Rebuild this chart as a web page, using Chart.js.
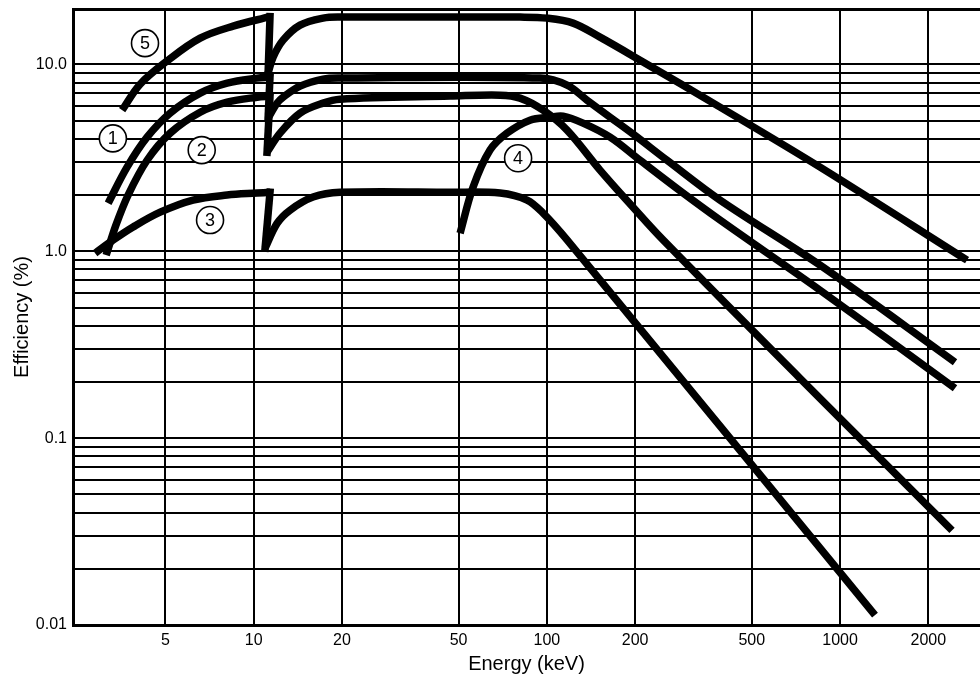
<!DOCTYPE html>
<html>
<head>
<meta charset="utf-8">
<title>Efficiency vs Energy</title>
<script src="https://cdn.jsdelivr.net/npm/chart.js@4.4.1/dist/chart.umd.min.js"></script>
<style>
  html, body { margin: 0; padding: 0; background: #fff; }
  canvas { display: block; }
</style>
</head>
<body>
<canvas id="efficiencyChart" width="980" height="682"></canvas>
<script>
// energy in keV, efficiency in %, read off the plot
// where the energy steps back (near 11.3 keV) is the absorption edge drop
const curve1Energy = [3.19, 3.70, 4.33, 5.19, 6.57, 8.12, 10.27, 11.37, 11.20, 12.02, 12.60, 14.40, 17.25, 19.71, 94.8, 117.2, 137.1, 164.3, 196.8, 257.0, 389.6, 854.8, 2467];
const curve1Eff = [1.81, 2.82, 4.08, 5.49, 7.02, 7.94, 8.45, 8.55, 5.16, 6.21, 6.68, 7.65, 8.34, 8.45, 8.45, 7.75, 6.44, 5.22, 4.24, 3.07, 1.88, 0.843, 0.255];

const curve2Energy = [3.14, 3.39, 3.73, 4.33, 5.19, 6.57, 8.12, 10.27, 11.37, 11.11, 12.30, 14.40, 17.25, 19.71, 46.8, 69.3, 81.0, 97.1, 117.2, 151.8, 196.8, 249.1, 730.3, 2410];
const curve2Eff = [0.953, 1.38, 2.00, 3.07, 4.29, 5.55, 6.28, 6.68, 6.77, 3.39, 4.29, 5.49, 6.21, 6.52, 6.77, 6.85, 6.60, 5.69, 4.45, 2.72, 1.72, 1.15, 0.209, 0.0321];

const curve3Energy = [2.88, 3.32, 3.88, 4.80, 6.21, 8.12, 10.27, 11.37, 10.94, 12.02, 13.31, 15.94, 19.71, 46.8, 69.3, 85.6, 97.1, 117.2, 1316];
const curve3Eff = [0.977, 1.15, 1.35, 1.62, 1.88, 2.00, 2.05, 2.07, 1.04, 1.41, 1.66, 1.95, 2.07, 2.07, 2.05, 1.88, 1.60, 1.15, 0.0113];

const curve4Energy = [50.6, 56.0, 64.0, 73.2, 87.6, 102.5, 113.6, 132.9, 164.3, 207.9, 291.4, 389.6, 854.8, 2467];
const curve4Eff = [1.25, 2.20, 3.48, 4.29, 5.03, 5.22, 5.29, 4.85, 4.08, 3.07, 2.05, 1.47, 0.619, 0.185];

const curve5Energy = [3.56, 4.10, 5.11, 6.57, 8.51, 11.37, 11.20, 11.65, 12.60, 14.40, 17.25, 19.71, 46.8, 81.0, 100.2, 122.9, 151.8, 207.9, 389.6, 854.8, 2712];
const curve5Eff = [5.69, 7.84, 10.54, 13.83, 16.03, 18.03, 8.98, 10.94, 13.49, 16.23, 17.69, 17.92, 17.92, 17.92, 17.69, 16.64, 14.00, 10.54, 5.91, 2.82, 0.896];

// circled curve numbers
const labelNames = ['1', '2', '3', '4', '5'];
const labelEnergy = [3.31, 6.65, 7.10, 79.8, 4.26];
const labelEff = [4.02, 3.48, 1.47, 3.15, 13.0];

// axes
const xMin = 2.42;
const xMax = 3002;
const xTickValues = [5, 10, 20, 50, 100, 200, 500, 1000, 2000];

const yMin = 0.01;
const yMax = 19.8;
const yTickValues = [
  0.01, 0.02, 0.03, 0.04, 0.05, 0.06, 0.07, 0.08, 0.09,
  0.1, 0.2, 0.3, 0.4, 0.5, 0.6, 0.7, 0.8, 0.9,
  1, 2, 3, 4, 5, 6, 7, 8, 9,
  10, yMax
];
const yLabelValues = [0.01, 0.1, 1, 10];
const yLabelTexts = ['0.01', '0.1', '1.0', '10.0'];

Chart.defaults.font.family = '"Liberation Sans", Arial, Helvetica, sans-serif';
Chart.defaults.color = '#000';

function toPoints(energy, eff) {
  return energy.map((e, i) => ({ x: e, y: eff[i] }));
}

function createDataset(label, data, tension, cap) {
  return {
    label,
    data,
    borderColor: '#000',
    borderWidth: 7.5,
    borderCapStyle: cap,
    borderJoinStyle: 'miter',
    pointRadius: 0,
    tension,
    fill: false
  };
}

// smooth parts before and after the edge, straight drop in between
function curveDatasets(label, energy, eff) {
  const points = toPoints(energy, eff);
  const k = energy.findIndex((e, i) => i > 0 && e <= energy[i - 1]);
  if (k < 0) return [createDataset(label, points, 0.35, 'butt')];
  return [
    createDataset(label, points.slice(0, k), 0.35, 'butt'),
    createDataset(label, points.slice(k - 1, k + 1), 0, 'square'),
    createDataset(label, points.slice(k), 0.35, 'butt')
  ];
}

const circledLabels = {
  id: 'circledLabels',
  afterDatasetsDraw(chart) {
    const { ctx, scales: { x, y } } = chart;
    ctx.save();
    ctx.font = '18px "Liberation Sans", Arial, sans-serif';
    ctx.textAlign = 'center';
    ctx.textBaseline = 'middle';
    labelNames.forEach((name, i) => {
      const px = x.getPixelForValue(labelEnergy[i]);
      const py = y.getPixelForValue(labelEff[i]);
      ctx.beginPath();
      ctx.arc(px, py, 13.5, 0, Math.PI * 2);
      ctx.fillStyle = '#fff';
      ctx.fill();
      ctx.lineWidth = 1.6;
      ctx.strokeStyle = '#000';
      ctx.stroke();
      ctx.fillStyle = '#000';
      ctx.fillText(name, px, py + 1);
    });
    ctx.restore();
  }
};

const ctx = document.getElementById('efficiencyChart').getContext('2d');
new Chart(ctx, {
  type: 'line',
  data: {
    datasets: [
      ...curveDatasets('1', curve1Energy, curve1Eff),
      ...curveDatasets('2', curve2Energy, curve2Eff),
      ...curveDatasets('3', curve3Energy, curve3Eff),
      ...curveDatasets('4', curve4Energy, curve4Eff),
      ...curveDatasets('5', curve5Energy, curve5Eff)
    ]
  },
  options: {
    responsive: false,
    animation: false,
    devicePixelRatio: 1,
    layout: { padding: { top: 9, right: 0, bottom: 0, left: 0 } },
    plugins: {
      legend: { display: false },
      tooltip: { enabled: false }
    },
    scales: {
      x: {
        type: 'logarithmic',
        min: xMin,
        max: xMax,
        bounds: 'data',
        afterBuildTicks: scale => { scale.ticks = xTickValues.map(value => ({ value })); },
        afterFit: scale => { scale.height = 57; },
        grid: { color: '#000', lineWidth: 2, drawTicks: false },
        border: { color: '#000', width: 3 },
        ticks: {
          autoSkip: false,
          maxRotation: 0,
          padding: 6,
          font: { size: 16 },
          callback: value => String(value)
        },
        title: {
          display: true,
          text: 'Energy (keV)',
          font: { size: 20 },
          padding: { top: 0, bottom: 6 }
        }
      },
      y: {
        type: 'logarithmic',
        min: yMin,
        max: yMax,
        bounds: 'data',
        afterBuildTicks: scale => { scale.ticks = yTickValues.map(value => ({ value })); },
        afterFit: scale => {
          scale.width = 73;
          // labels must not push the plot area down
          scale.paddingTop = 0;
          scale.paddingBottom = 0;
        },
        grid: {
          color: '#000',
          lineWidth: c => (c.tick && c.tick.value === yMax ? 3 : 2),
          drawTicks: false
        },
        border: { color: '#000', width: 3 },
        ticks: {
          autoSkip: false,
          padding: 6,
          font: { size: 16 },
          callback: value => {
            const k = yLabelValues.indexOf(value);
            return k >= 0 ? yLabelTexts[k] : '';
          }
        },
        title: {
          display: true,
          text: 'Efficiency (%)',
          font: { size: 20 },
          padding: { top: 10, bottom: 0 }
        }
      }
    }
  },
  plugins: [circledLabels]
});
</script>
</body>
</html>
